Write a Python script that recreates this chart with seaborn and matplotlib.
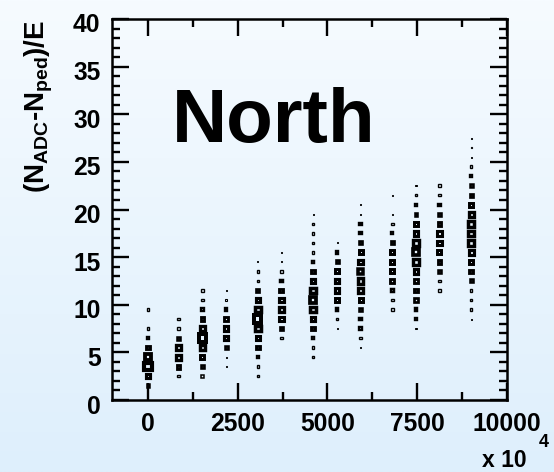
import numpy as np
import pandas as pd
import seaborn as sns
import matplotlib.pyplot as plt
import matplotlib.transforms as mtransforms

# Columnas del histograma 2D: posicion en x, primer bin en y, contenido por celda
col_x = [0, 855, 1517, 2179, 3061, 3715, 4598, 5268, 5922, 6804, 7466, 8117, 9003]
col_k0 = [1, 2, 2, 3, 2, 6, 4, 7, 5, 9, 7, 11, 8]
col_counts = [
    [20, 43, 100, 80, 31, 16, 11, 0, 11],
    [11, 31, 50, 50, 22, 11, 11],
    [13, 22, 35, 56, 90, 50, 31, 16, 11, 11],
    [3, 3, 22, 43, 43, 31, 16, 8, 3],
    [11, 11, 16, 31, 40, 60, 90, 60, 43, 26, 11, 11, 3],
    [11, 26, 40, 50, 43, 31, 18, 11, 3, 3],
    [11, 11, 18, 31, 43, 60, 75, 60, 43, 31, 18, 11, 11, 11, 11, 3],
    [3, 11, 18, 36, 43, 43, 36, 24, 16, 3],
    [3, 11, 16, 18, 22, 36, 50, 56, 62, 43, 36, 24, 16, 16, 3, 3],
    [11, 11, 18, 31, 36, 36, 36, 26, 16, 11, 3, 0, 3],
    [3, 16, 18, 26, 31, 31, 43, 56, 71, 56, 43, 36, 22, 16, 11, 3],
    [11, 11, 22, 31, 36, 40, 40, 31, 22, 16, 11, 11],
    [3, 11, 11, 11, 22, 31, 36, 43, 56, 56, 60, 50, 36, 26, 20, 16, 11, 3, 4, 3],
]

x_ticks = [0, 2500, 5000, 7500, 10000]
x_labels = ['0', '2500', '5000', '7500', '10000']
y_ticks = [0, 5, 10, 15, 20, 25, 30, 35, 40]
y_labels = ['0', '5', '10', '15', '20', '25', '30', '35', '40']

# Construir la tabla de celdas
filas = []
for x, k0, counts in zip(col_x, col_k0, col_counts):
    for i, c in enumerate(counts):
        if c > 0:
            filas.append((x, k0 + i + 0.5, c))
datos = pd.DataFrame(filas, columns=['x', 'y', 'n'])

# Tamano de caja (px): lado exterior y hueco interior
S = 11.8 * np.sqrt(datos['n'].to_numpy() / 100)
H = np.maximum(0, 0.5 * S - 2.4)
H = np.where((S > 3) & (S < 4.4), 1.2, H)
lado_pt = 0.72 * (S + H) / 2
lw_pt = 0.72 * (S - H) / 2

sns.set_theme(style='ticks')
plt.rcParams['font.family'] = ['Liberation Sans', 'DejaVu Sans']
plt.rcParams['text.color'] = 'black'
plt.rcParams['mathtext.fontset'] = 'custom'
plt.rcParams['mathtext.rm'] = 'Liberation Sans:bold'
plt.rcParams['mathtext.it'] = 'Liberation Sans:bold'
plt.rcParams['mathtext.bf'] = 'Liberation Sans:bold'

W, Hfig = 554, 472
arriba = np.array([246, 251, 255]) / 255
abajo = np.array([222, 239, 252]) / 255
fig = plt.figure(figsize=(W / 100, Hfig / 100), dpi=100, facecolor=(arriba + abajo) / 2)

# Fondo degradado
fondo = fig.add_axes([0, 0, 1, 1], zorder=-10)
t = np.linspace(0, 1, 256)[:, None, None]
fondo.imshow(arriba * (1 - t) + abajo * t, aspect='auto', extent=[0, 1, 0, 1],
             interpolation='bilinear')
fondo.set_xlim(0, 1)
fondo.set_ylim(0, 1)
fondo.axis('off')

ax = fig.add_axes([112 / W, 72 / Hfig, 395 / W, 381 / Hfig])
ax.set_facecolor('none')

sns.scatterplot(data=datos, x='x', y='y', marker='s', color='black',
                facecolor='none', edgecolor='black', legend=False, ax=ax)
cajas = ax.collections[-1]
cajas.set_sizes(lado_pt ** 2)
cajas.set_linewidths(lw_pt)
cajas.set_facecolor('none')
cajas.set_edgecolor('black')
cajas.set_joinstyle('miter')

ax.set_xlim(-1000, 10000)
ax.set_ylim(0, 40)
ax.set_xticks(x_ticks)
ax.set_xticks([1250, 3750, 6250, 8750], minor=True)
ax.set_yticks(y_ticks)
ax.set_yticks(np.arange(0, 41, 1), minor=True)
ax.set_xticklabels(x_labels, fontsize=17.7, fontweight='bold')
ax.set_yticklabels(y_labels, fontsize=17.7, fontweight='bold')
ax.set_xlabel('')
ax.set_ylabel('')

ax.tick_params(which='both', direction='in', top=True, right=True,
               width=1.7, color='black', labelcolor='black')
ax.tick_params(which='major', length=12.2)
ax.tick_params(which='minor', length=6.1)
ax.tick_params(axis='x', which='major', pad=8.5)
ax.tick_params(axis='y', which='major', pad=8.2)
for s in ax.spines.values():
    s.set_linewidth(1.8)
    s.set_color('black')
    s.set_visible(True)

desplazar = mtransforms.ScaledTranslation(0, -0.04, fig.dpi_scale_trans)
for lab in ax.get_yticklabels():
    lab.set_transform(lab.get_transform() + desplazar)

# Textos
fig.text(172 / W, 1 - 141.7 / Hfig, 'North', fontsize=55, fontweight='bold',
         color='black', ha='left', va='baseline')
fig.text(45 / W, 1 - 20 / Hfig, r'$(N_{ADC}$-$N_{ped})/E$', fontsize=20,
         fontweight='bold', color='black', rotation=90, rotation_mode='anchor',
         ha='right', va='baseline')
fig.text(482 / W, 1 - 467 / Hfig, 'x 10', fontsize=16.5, fontweight='bold',
         color='black', ha='left', va='baseline')
fig.text(539 / W, 1 - 447 / Hfig, '4', fontsize=13, fontweight='bold',
         color='black', ha='left', va='baseline')

fig.savefig('out.png', dpi=100)
